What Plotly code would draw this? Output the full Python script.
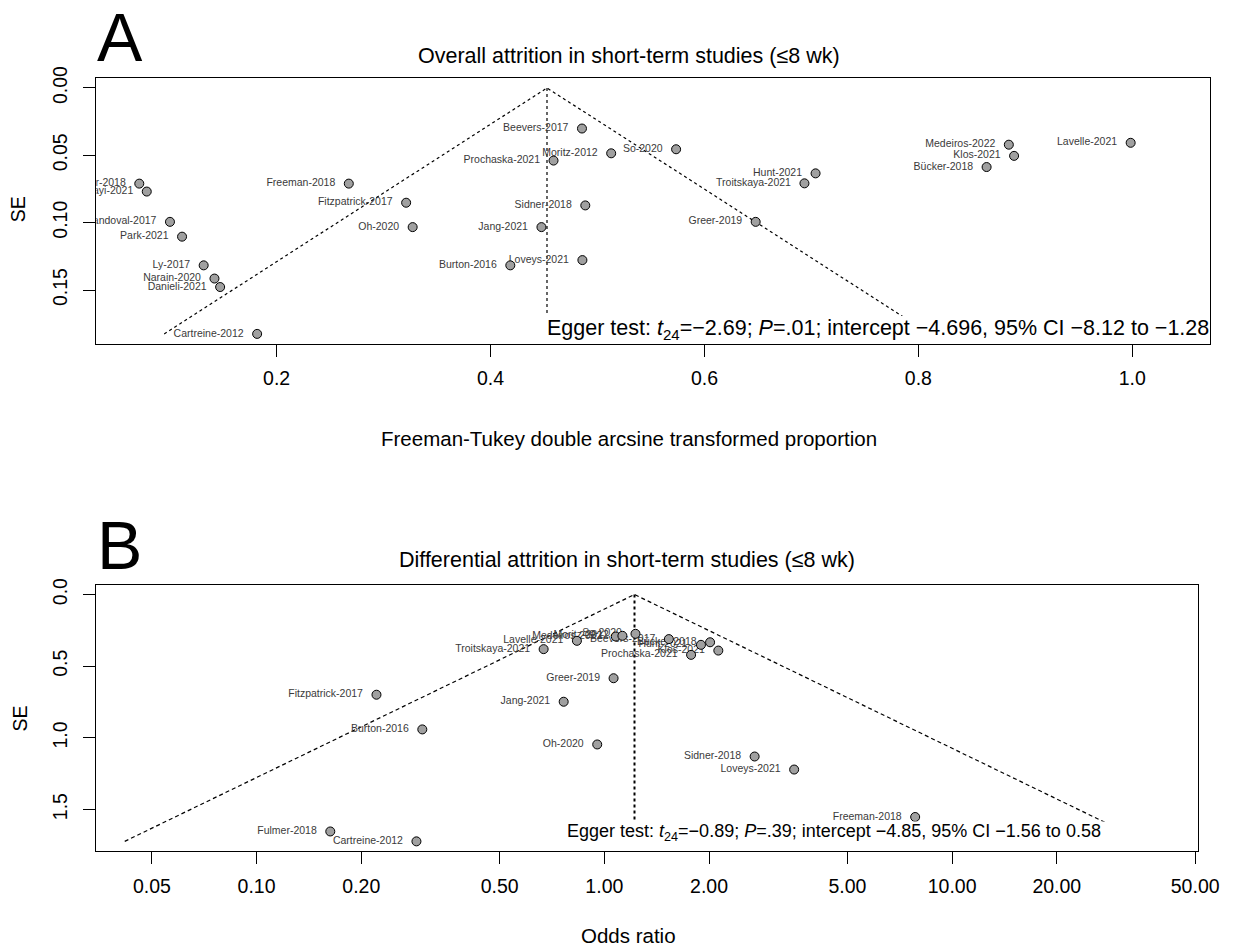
import numpy as np
import plotly.graph_objects as go

W, H = 1252, 947
FONT = "Liberation Sans, Arial, sans-serif"

# ---------------- Panel A data ----------------
studies_a = ["Fulmer-2018", "Kayi-2021", "Sandoval-2017", "Park-2021", "Ly-2017",
             "Narain-2020", "Danieli-2021", "Cartreine-2012", "Freeman-2018",
             "Fitzpatrick-2017", "Oh-2020", "Burton-2016", "Jang-2021",
             "Prochaska-2021", "Beevers-2017", "Loveys-2021", "Sidner-2018",
             "Moritz-2012", "So-2020", "Greer-2019", "Troitskaya-2021", "Hunt-2021",
             "Bücker-2018", "Medeiros-2022", "Klos-2021", "Lavelle-2021"]
ft_a = [0.0716, 0.0786, 0.1003, 0.1116, 0.1318, 0.1419, 0.1472, 0.1818, 0.2675,
        0.3211, 0.3272, 0.4185, 0.4476, 0.4589, 0.4855, 0.4859, 0.4886, 0.5128,
        0.5735, 0.6479, 0.6935, 0.7039, 0.8638, 0.8846, 0.8895, 0.9985]
se_a = [0.0710, 0.0769, 0.0994, 0.1104, 0.1317, 0.1415, 0.1478, 0.1826, 0.0710,
        0.0852, 0.1033, 0.1317, 0.1033, 0.0539, 0.0301, 0.1278, 0.0872, 0.0485,
        0.0455, 0.0994, 0.0708, 0.0634, 0.0587, 0.0421, 0.0504, 0.0407]
est_a = 0.4528
xticks_a = [0.2, 0.4, 0.6, 0.8, 1.0]
xticktext_a = ["0.2", "0.4", "0.6", "0.8", "1.0"]
yticks_a = [0.0, 0.05, 0.10, 0.15]
yticktext_a = ["0.00", "0.05", "0.10", "0.15"]

# ---------------- Panel B data ----------------
studies_b = ["Fulmer-2018", "Fitzpatrick-2017", "Cartreine-2012", "Burton-2016",
             "Troitskaya-2021", "Jang-2021", "Lavelle-2021", "Oh-2020", "Greer-2019",
             "Medeiros-2022", "Moritz-2012", "So-2020", "Beevers-2017",
             "Prochaska-2021", "Hunt-2021", "Bücker-2018", "Klos-2021",
             "Sidner-2018", "Loveys-2021", "Freeman-2018"]
or_b = [0.1629, 0.2212, 0.2882, 0.2996, 0.669, 0.764, 0.834, 0.954, 1.063, 1.079,
        1.127, 1.229, 1.533, 1.776, 1.896, 2.014, 2.127, 2.705, 3.514, 7.83]
se_b = [1.653, 0.699, 1.722, 0.941, 0.381, 0.748, 0.323, 1.046, 0.584, 0.293,
        0.288, 0.274, 0.311, 0.421, 0.351, 0.333, 0.391, 1.130, 1.221, 1.552]
est_b = 1.221
xticks_b = [0.05, 0.1, 0.2, 0.5, 1, 2, 5, 10, 20, 50]
xticktext_b = ["0.05", "0.10", "0.20", "0.50", "1.00", "2.00", "5.00", "10.00",
               "20.00", "50.00"]
yticks_b = [0.0, 0.5, 1.0, 1.5]
yticktext_b = ["0.0", "0.5", "1.0", "1.5"]

egger_a = ("Egger test: <i>t</i><sub>24</sub>=\u22122.69; <i>P</i>=.01; intercept "
           "\u22124.696, 95% CI \u22128.12 to \u22121.28")
egger_b = ("Egger test: <i>t</i><sub>24</sub>=\u22120.89; <i>P</i>=.39; intercept "
           "\u22124.85, 95% CI \u22121.56 to 0.58")

fig = go.Figure()

def px_x(p):
    return p / W

def px_y(p):
    return 1 - p / H

LBL = dict(size=10.5, color="#3a3a3a", family=FONT)
PT = dict(size=9, color="#a0a0a0", line=dict(color="black", width=1))

# ---- funnel A ----
sa = max(se_a)
fig.add_trace(go.Scatter(x=[est_a - 1.96 * sa, est_a, est_a + 1.96 * sa], y=[sa, 0, sa],
                         mode="lines", line=dict(color="black", width=1.2, dash="dot"),
                         xaxis="x", yaxis="y", showlegend=False, hoverinfo="skip"))
fig.add_trace(go.Scatter(x=[est_a, est_a], y=[0, sa], mode="lines",
                         line=dict(color="black", width=1.2, dash="dot"),
                         xaxis="x", yaxis="y", showlegend=False, hoverinfo="skip"))
fig.add_trace(go.Scatter(x=ft_a, y=se_a, mode="markers+text", text=studies_a,
                         textposition="middle left", textfont=LBL,
                         marker=dict(size=20, color="rgba(0,0,0,0)"),
                         cliponaxis=True, xaxis="x", yaxis="y", showlegend=False,
                         hoverinfo="skip"))
fig.add_trace(go.Scatter(x=ft_a, y=se_a, mode="markers", marker=PT,
                         xaxis="x", yaxis="y", showlegend=False))

# ---- funnel B ----
sb = max(se_b)
lo = float(np.exp(np.log(est_b) - 1.96 * sb))
hi = float(np.exp(np.log(est_b) + 1.96 * sb))
fig.add_trace(go.Scatter(x=[lo, est_b, hi], y=[sb, 0, sb], mode="lines",
                         line=dict(color="black", width=1.2, dash="4px,3px"),
                         xaxis="x2", yaxis="y2", showlegend=False, hoverinfo="skip"))
fig.add_trace(go.Scatter(x=[est_b, est_b], y=[0, sb], mode="lines",
                         line=dict(color="black", width=2, dash="dot"),
                         xaxis="x2", yaxis="y2", showlegend=False, hoverinfo="skip"))
fig.add_trace(go.Scatter(x=or_b, y=se_b, mode="markers+text", text=studies_b,
                         textposition="middle left", textfont=LBL,
                         marker=dict(size=20, color="rgba(0,0,0,0)"),
                         cliponaxis=True, xaxis="x2", yaxis="y2", showlegend=False,
                         hoverinfo="skip"))
fig.add_trace(go.Scatter(x=or_b, y=se_b, mode="markers", marker=PT,
                         xaxis="x2", yaxis="y2", showlegend=False))

axis_common = dict(showline=True, linecolor="black", linewidth=1, mirror=True,
                   showgrid=False, zeroline=False, ticks="outside", ticklen=12,
                   tickwidth=1, tickcolor="black",
                   tickfont=dict(size=19.5, family=FONT, color="black"))

fig.update_layout(
    width=W, height=H,
    margin=dict(l=0, r=0, t=0, b=0),
    paper_bgcolor="white", plot_bgcolor="white",
    font=dict(family=FONT, color="black"),
    xaxis=dict(domain=[px_x(98), px_x(1232)], range=[0.0314, 1.073], anchor="y",
               tickmode="array", tickvals=xticks_a, ticktext=xticktext_a,
               ticklabelstandoff=5, **axis_common),
    yaxis=dict(domain=[px_y(336), px_y(67)], range=[sa * 1.04, -sa * 0.04], anchor="x",
               tickmode="array", tickvals=yticks_a, ticktext=yticktext_a,
               tickangle=-90, ticklabelstandoff=8, **axis_common),
    xaxis2=dict(domain=[px_x(98), px_x(1219)], type="log",
                range=[np.log10(0.0346), np.log10(50.8)], anchor="y2",
                tickmode="array", tickvals=xticks_b, ticktext=xticktext_b,
                ticklabelstandoff=5, **axis_common),
    yaxis2=dict(domain=[px_y(850), px_y(580)], range=[sb * 1.04, -sb * 0.04],
                anchor="x2", tickmode="array", tickvals=yticks_b, ticktext=yticktext_b,
                tickangle=-90, ticklabelstandoff=8, **axis_common),
)

# white backing boxes behind the Egger test legends (cover the funnel lines)
fig.update_layout(shapes=[
    dict(type="rect", xref="paper", yref="paper", layer="above",
         x0=px_x(553), x1=px_x(1229), y0=px_y(334), y1=px_y(308),
         fillcolor="white", line=dict(width=0)),
    dict(type="rect", xref="paper", yref="paper", layer="above",
         x0=px_x(572), x1=px_x(1216), y0=px_y(843), y1=px_y(820),
         fillcolor="white", line=dict(width=0)),
])

def txt(text, x, y, size, **kw):
    d = dict(text=text, x=px_x(x), y=px_y(y), xref="paper", yref="paper",
             xanchor="center", yanchor="middle", showarrow=False,
             font=dict(size=size, family=FONT, color="black"))
    d.update(kw)
    return d

ann = [
    txt("A", 97, 66, 68, xanchor="left", yanchor="bottom"),
    txt("B", 97, 580, 68, xanchor="left", yanchor="bottom"),
    txt("Overall attrition in short-term studies (\u22648 wk)", 640, 45, 21.5),
    txt("Differential attrition in short-term studies (\u22648 wk)", 638, 555, 21.5),
    txt("Freeman-Tukey double arcsine transformed proportion", 640, 432, 20.5),
    txt("Odds ratio", 640, 935, 20.5),
    txt("SE", 19, 200, 19.5, textangle=-90),
    txt("SE", 20, 716, 19.5, textangle=-90),
    txt(egger_a, 555, 321.5, 21.5, xanchor="left"),
    txt(egger_b, 575, 831, 18, xanchor="left"),
]
fig.update_layout(annotations=ann)

fig.write_html("out.html")
